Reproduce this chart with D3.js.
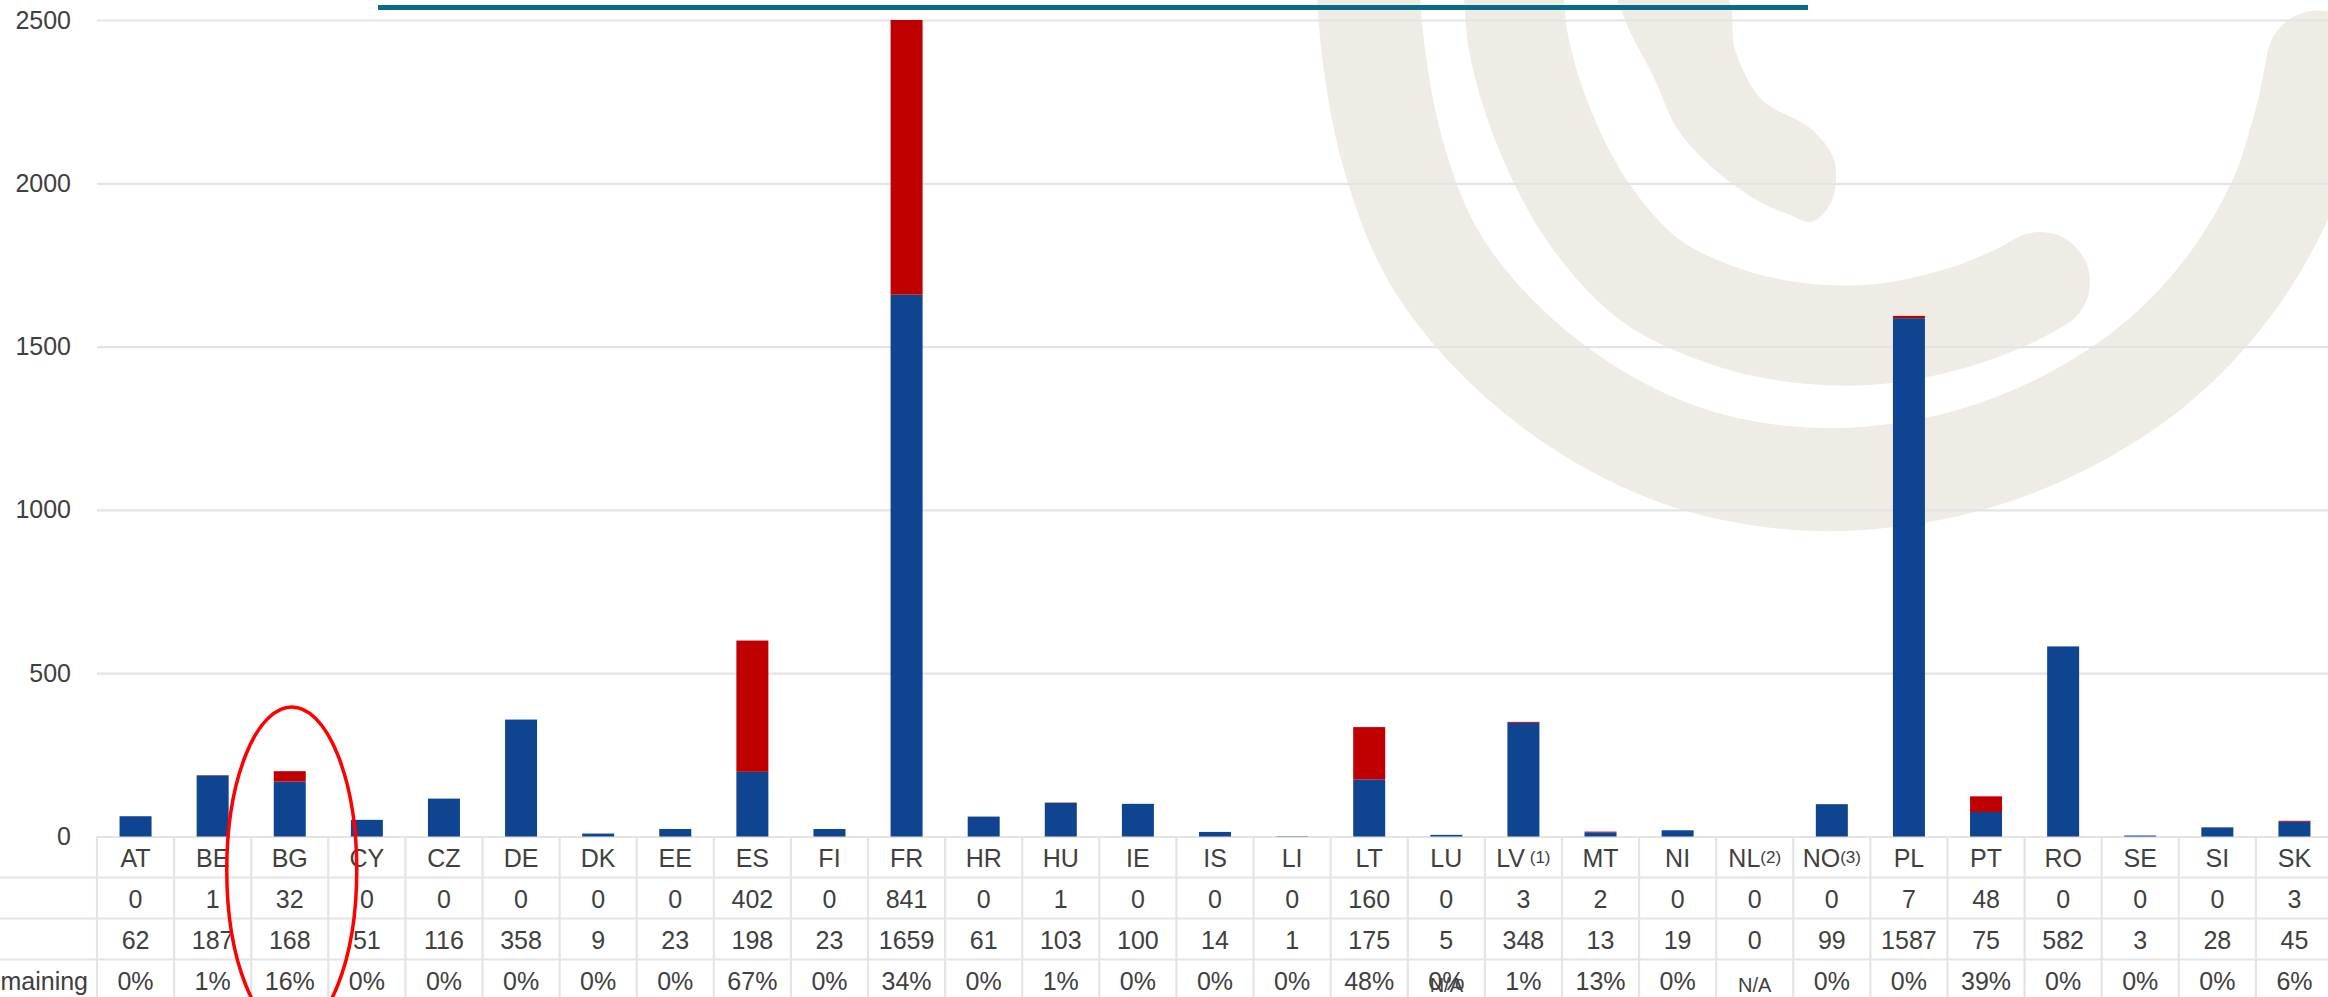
<!DOCTYPE html>
<html>
<head>
<meta charset="utf-8">
<script src="https://cdn.jsdelivr.net/npm/d3@7"></script>
<style>
  html, body { margin: 0; padding: 0; background: #fff; overflow: hidden; }
  svg { display: block; }
  text { font-family: "Liberation Sans", Arial, sans-serif; fill: #404040; }
</style>
</head>
<body>
<div id="chart"></div>
<script>
// values
const categories = ['AT','BE','BG','CY','CZ','DE','DK','EE','ES','FI','FR','HR','HU','IE','IS','LI','LT','LU','LV','MT','NI','NL','NO','PL','PT','RO','SE','SI','SK'];
const redValues  = [0, 1, 32, 0, 0, 0, 0, 0, 402, 0, 841, 0, 1, 0, 0, 0, 160, 0, 3, 2, 0, 0, 0, 7, 48, 0, 0, 0, 3];
const blueValues = [62, 187, 168, 51, 116, 358, 9, 23, 198, 23, 1659, 61, 103, 100, 14, 1, 175, 5, 348, 13, 19, 0, 99, 1587, 75, 582, 3, 28, 45];
const pctLabels  = ['0%','1%','16%','0%','0%','0%','0%','0%','67%','0%','34%','0%','1%','0%','0%','0%','48%','0%','1%','13%','0%','','0%','0%','39%','0%','0%','0%','6%'];
const naCategories = ['LU', 'NL'];
const footnotes = { LV: ' (1)', NL: '(2)', NO: '(3)' };
const yTicks = [0, 500, 1000, 1500, 2000, 2500];
const rowLabels = ['', '', '% remaining'];

const width = 2328;
const height = 997;
const plot = { left: 97, right: 2333, top: 20, bottom: 836.5 };
const rowH = 41;

const blue = '#0E4490';
const red = '#C00000';
const grid = '#e4e4e4';
const beige = '#efece5';

const svg = d3.select('#chart')
  .append('svg')
  .attr('width', width)
  .attr('height', height)
  .attr('viewBox', `0 0 ${width} ${height}`);

// background watermark (logo arcs)
const wm = svg.append('g').attr('class', 'watermark');
const arcLine = d3.line().curve(d3.curveCatmullRom.alpha(0.5));
const outerBand = [[1367,-60],[1372,40],[1392,150],[1430,250],[1490,330],[1580,405],[1680,455],[1780,477],[1869,478],[1970,460],[2070,420],[2160,360],[2230,285],[2280,200],[2306,120],[2318,62]];
const middleBand = [[1513,-60],[1518,40],[1545,130],[1590,215],[1650,280],[1730,318],[1810,334],[1880,334],[1950,320],[2010,298],[2040,282]];
wm.append('path').attr('d', arcLine(outerBand))
  .attr('fill', 'none').attr('stroke', beige).attr('stroke-width', 103).attr('stroke-linecap', 'round');
wm.append('path').attr('d', arcLine(middleBand))
  .attr('fill', 'none').attr('stroke', beige).attr('stroke-width', 100).attr('stroke-linecap', 'round');
const hook = [[1619,-5],[1725,-5],[1735,50],[1762,100],[1810,128],[1834,160],[1832,200],[1812,222],[1790,215],[1760,202],[1715,170],[1678,130],[1655,80],[1625,20]];
wm.append('path').attr('d', d3.line().curve(d3.curveCatmullRomClosed)(hook)).attr('fill', beige);

// title underline (title text itself is outside the frame)
svg.append('rect')
  .attr('x', 378).attr('y', 5).attr('width', 1808 - 378).attr('height', 5)
  .attr('fill', '#0B6A87');

const x = d3.scaleBand()
  .domain(categories)
  .range([plot.left, plot.right])
  .paddingInner(0.585)
  .paddingOuter(0.2925);

const y = d3.scaleLinear()
  .domain([0, 2500])
  .range([plot.bottom, plot.top]);

// gridlines
const gridG = svg.append('g')
  .attr('transform', `translate(${plot.left},0)`)
  .call(d3.axisLeft(y).tickValues(yTicks).tickFormat('').tickSize(-(width - plot.left)));
gridG.select('.domain').remove();
gridG.selectAll('line').attr('stroke', grid).attr('stroke-width', 2.2);

// y labels
const yAxis = svg.append('g')
  .attr('transform', 'translate(71,0)')
  .call(d3.axisLeft(y).tickValues(yTicks).tickFormat(d3.format('d')).tickSize(0).tickPadding(0));
yAxis.select('.domain').remove();
yAxis.selectAll('text')
  .attr('font-size', 25)
  .attr('fill', '#404040')
  .style('font-family', '"Liberation Sans", Arial, sans-serif');

// stacked bars
const rows = categories.map((c, i) => ({ cat: c, blue: blueValues[i], red: redValues[i] }));
const series = d3.stack().keys(['blue', 'red'])(rows);
const colors = { blue: blue, red: red };

svg.append('g').selectAll('g')
  .data(series)
  .join('g')
  .attr('fill', (s) => colors[s.key])
  .selectAll('rect')
  .data((s) => s)
  .join('rect')
  .attr('x', (d) => x(d.data.cat))
  .attr('width', x.bandwidth())
  .attr('y', (d) => y(d[1]))
  .attr('height', (d) => Math.max(0, y(d[0]) - y(d[1])));

// data table
const table = svg.append('g').attr('class', 'table');
const step = x.step();
const edges = d3.range(categories.length + 1).map((i) => plot.left + i * step);
const rowTops = [plot.bottom, plot.bottom + rowH, plot.bottom + 2 * rowH, plot.bottom + 3 * rowH];

table.selectAll('line.h')
  .data(rowTops.slice(1))
  .join('line')
  .attr('x1', 0).attr('x2', width)
  .attr('y1', (d) => d).attr('y2', (d) => d)
  .attr('stroke', grid).attr('stroke-width', 2.2);

table.selectAll('line.v')
  .data(edges)
  .join('line')
  .attr('x1', (d) => d).attr('x2', (d) => d)
  .attr('y1', plot.bottom).attr('y2', height)
  .attr('stroke', grid).attr('stroke-width', 2.2);

const cx = (c) => x(c) + x.bandwidth() / 2;
const rowMid = (r) => rowTops[r] + rowH / 2 + 1;

// header row
const head = table.selectAll('text.head')
  .data(categories)
  .join('text')
  .attr('class', 'head')
  .attr('x', cx)
  .attr('y', rowMid(0))
  .attr('dy', '0.35em')
  .attr('text-anchor', 'middle')
  .attr('font-size', 25);
head.append('tspan').text((d) => d);
head.filter((d) => footnotes[d])
  .append('tspan')
  .attr('font-size', 17)
  .attr('dy', -4)
  .text((d) => footnotes[d]);

const valueRows = [redValues, blueValues];
valueRows.forEach((vals, r) => {
  table.append('g').selectAll('text')
    .data(categories)
    .join('text')
    .attr('x', cx)
    .attr('y', rowMid(r + 1))
    .attr('dy', '0.35em')
    .attr('text-anchor', 'middle')
    .attr('font-size', 25)
    .text((d, i) => vals[i]);
});

table.append('g').selectAll('text')
  .data(categories)
  .join('text')
  .attr('x', cx)
  .attr('y', rowMid(3))
  .attr('dy', '0.35em')
  .attr('text-anchor', 'middle')
  .attr('font-size', 25)
  .text((d, i) => pctLabels[i]);

table.append('g').selectAll('text')
  .data(naCategories)
  .join('text')
  .attr('x', cx)
  .attr('y', rowMid(3) + 4)
  .attr('dy', '0.35em')
  .attr('text-anchor', 'middle')
  .attr('font-size', 20)
  .text('N/A');

// row labels (mostly outside the frame)
rowLabels.forEach((lab, r) => {
  table.append('text')
    .attr('x', 88)
    .attr('y', rowMid(r + 1))
    .attr('dy', '0.35em')
    .attr('text-anchor', 'end')
    .attr('font-size', 25)
    .text(lab);
});

// red highlight ellipse around BG
svg.append('ellipse')
  .attr('cx', cx('BG') + 2)
  .attr('cy', 870)
  .attr('rx', 65)
  .attr('ry', 163)
  .attr('fill', 'none')
  .attr('stroke', '#ff0000')
  .attr('stroke-width', 3.5);
</script>
</body>
</html>
